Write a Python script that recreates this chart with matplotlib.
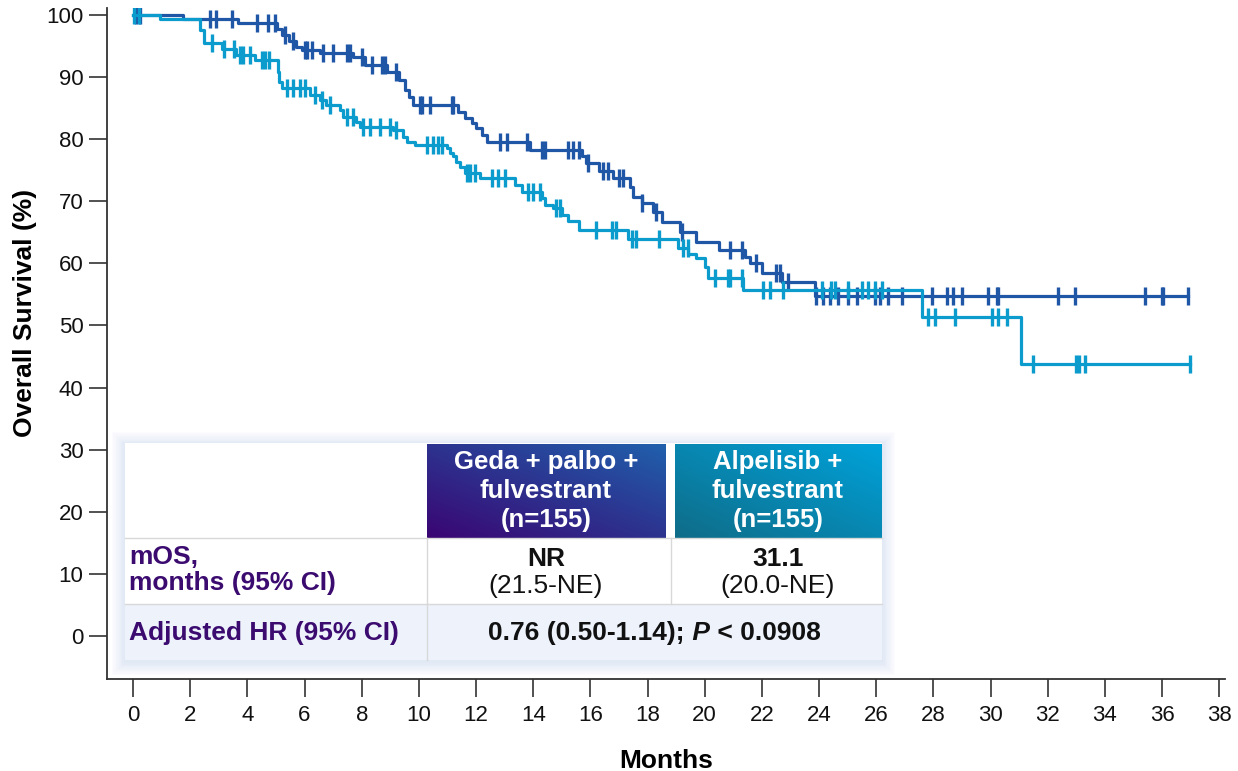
import numpy as np
import matplotlib
matplotlib.use('Agg')
import matplotlib.pyplot as plt
from matplotlib.patches import Rectangle
from matplotlib.colors import to_rgb

plt.rcParams['font.family'] = ['Liberation Sans', 'DejaVu Sans']

# Geda + palbo + fulvestrant: step times (months) and survival (%) after each step
geda_t = [0, 1.75, 3.67, 5.05, 5.2, 5.45, 5.7, 5.9, 6.55, 7.7, 8.1, 8.9, 9.3, 9.5,
          9.65, 9.8, 11.37, 11.6, 11.85, 12.0, 12.2, 12.38, 13.9, 15.7, 15.85, 16.3,
          16.8, 17.4, 17.5, 17.8, 18.2, 18.5, 19.15, 19.7, 20.5, 21.4, 21.6, 22.0,
          22.7, 23.86]
geda_s = [100, 99.4, 98.7, 97.8, 96.8, 95.8, 94.9, 94.4, 93.9, 93.2, 92.0, 90.8, 89.5,
          87.9, 86.8, 85.5, 84.4, 83.4, 82.6, 81.8, 80.7, 79.5, 78.3, 77.2, 76.1, 74.8,
          73.7, 72.3, 70.7, 69.7, 68.3, 66.7, 65.1, 63.4, 62.1, 61.0, 60.0, 58.4,
          57.0, 54.8]
geda_cens = [0.1, 0.25, 2.7, 2.9, 3.45, 4.33, 4.72, 4.97, 5.3, 5.6, 6.0, 6.1, 6.25,
             6.65, 7.0, 7.5, 7.6, 8.0, 8.35, 8.7, 8.8, 9.2, 10.05, 10.1, 10.4, 11.15,
             11.2, 12.84, 13.08, 13.78, 14.3, 14.4, 15.2, 15.4, 15.6, 15.9, 16.45,
             16.6, 17.0, 17.15, 17.8, 18.3, 19.2, 20.9, 21.3, 21.8, 22.5, 22.65, 22.9,
             23.9, 24.14, 24.39, 24.67, 25.02, 25.33, 25.96, 26.14, 26.42, 26.91,
             27.96, 28.48, 28.69, 29.0, 29.92, 30.23, 30.27, 32.37, 32.96, 35.41,
             36.0, 36.04, 36.91]

# Alpelisib + fulvestrant
alp_t = [0, 0.95, 2.35, 2.5, 3.1, 3.6, 4.25, 5.07, 5.12, 5.2, 6.2, 6.55, 6.75, 7.24,
         7.35, 7.8, 7.95, 9.1, 9.45, 9.6, 9.87, 11.0, 11.1, 11.2, 11.3, 11.45, 11.6,
         12.14, 13.37, 13.6, 14.3, 14.4, 14.7, 15.0, 15.2, 15.6, 17.3, 19.07, 19.43,
         19.7, 20.0, 20.1, 21.35, 27.6, 31.05]
alp_s = [100, 99.4, 97.6, 95.5, 94.5, 93.6, 92.8, 90.8, 89.2, 88.2, 87.1, 86.3, 85.5,
         84.7, 83.6, 82.8, 82.0, 81.5, 80.3, 79.5, 79.0, 78.5, 77.8, 77.2, 76.3, 75.5,
         74.5, 73.7, 72.6, 71.5, 70.5, 69.4, 68.9, 67.8, 66.8, 65.3, 63.9, 62.5, 61.5,
         60.9, 59.4, 57.6, 55.7, 51.4, 43.8]
alp_cens = [0.05, 0.2, 2.76, 3.2, 3.55, 3.75, 3.85, 4.1, 4.5, 4.6, 4.75, 5.38, 5.6,
            5.84, 6.02, 6.37, 6.6, 6.9, 7.5, 7.7, 8.05, 8.3, 8.64, 9.0, 9.2, 10.28,
            10.5, 10.67, 10.8, 11.7, 11.8, 11.97, 12.55, 12.77, 13.0, 13.8, 14.0,
            14.24, 14.8, 14.95, 16.2, 16.75, 16.9, 17.45, 17.6, 18.4, 19.25, 19.4,
            20.35, 20.8, 20.9, 21.3, 22.05, 22.3, 22.75, 24.1, 24.4, 24.55, 25.0,
            25.5, 25.7, 25.96, 26.2, 27.8, 28.05, 28.76, 30.05, 30.27, 30.58, 31.5,
            33.0, 33.1, 33.3, 36.98]

arm_labels = ['Geda + palbo +\nfulvestrant\n(n=155)', 'Alpelisib +\nfulvestrant\n(n=155)']
mos_values = ['NR', '31.1']
mos_ci = ['(21.5-NE)', '(20.0-NE)']
row_labels = ['mOS,\nmonths (95% CI)', 'Adjusted HR (95% CI)']
hr_text = ['0.76 (0.50-1.14);', ' P', ' < 0.0908']

c_geda = '#1f56a6'
c_alp = '#0b9bcc'
purple = '#3b0b70'

fig = plt.figure(figsize=(12.38, 7.71), dpi=100)
ax = fig.add_axes([107 / 1238, 92 / 771, 1118 / 1238, 671 / 771])


def km(ax, t, s, cens, color):
    t = np.asarray(t)
    s = np.asarray(s)
    cens = np.asarray(cens)
    tt = np.append(t, cens.max())
    ss = np.append(s, s[-1])
    ax.step(tt, ss, where='post', color=color, lw=2.3, zorder=3)
    idx = np.searchsorted(t, cens, side='right') - 1
    ax.plot(cens, s[idx], ls='none', marker='|', ms=13, mew=2.4, color=color, zorder=3)


km(ax, geda_t, geda_s, geda_cens, c_geda)
km(ax, alp_t, alp_s, alp_cens, c_alp)

ax.set_xlim(-0.91, 38.2)
ax.set_ylim(-6.9, 101.1)
ax.set_xticks(np.arange(0, 39, 2))
ax.set_yticks(np.arange(0, 101, 10))
for sp in ['top', 'right']:
    ax.spines[sp].set_visible(False)
for sp in ['left', 'bottom']:
    ax.spines[sp].set_color('#333333')
    ax.spines[sp].set_linewidth(1.3)
ax.tick_params(axis='both', direction='out', length=13, width=1.2, color='#333333',
               labelsize=16, labelcolor='#111111')
ax.tick_params(axis='x', pad=6)
ax.tick_params(axis='y', pad=4)
ax.set_xlabel('Months', fontsize=19, fontweight='bold', labelpad=16)
ax.set_ylabel('Overall Survival (%)', fontsize=19, fontweight='bold')
ax.yaxis.set_label_coords(-0.063, 0.545)

# table drawn in pixel coordinates on an overlay axes
ov = fig.add_axes([0, 0, 1, 1], zorder=5)
ov.set_xlim(0, 1238)
ov.set_ylim(771, 0)
ov.axis('off')

x0, x1 = 125, 882
cx = [125, 427, 671, 882]
ry = [443, 538, 604, 660]

# soft glow behind the table
for k in range(1, 11):
    ov.add_patch(Rectangle((x0 - k * 1.3, ry[0] - k * 1.3 + 2), (x1 - x0) + 2.6 * k,
                           (ry[3] - ry[0]) + 2.6 * k, fc='#7b95cc', alpha=0.018, lw=0, zorder=1))
ov.add_patch(Rectangle((x0, ry[0]), x1 - x0, ry[2] - ry[0], fc='white', lw=0, zorder=2))
ov.add_patch(Rectangle((x0, ry[2]), x1 - x0, ry[3] - ry[2], fc='#edf2fb', lw=0, zorder=2))


def grad_cell(xa, ya, xb, yb, c_bl, c_tr):
    n = 80
    u = np.linspace(0, 1, n)[None, :]
    v = np.linspace(0, 1, n)[:, None]
    g = ((u + (1 - v)) / 2)[..., None]
    img = np.array(to_rgb(c_bl)) * (1 - g) + np.array(to_rgb(c_tr)) * g
    ov.imshow(img, extent=(xa, xb, yb, ya), aspect='auto', interpolation='bilinear', zorder=3)


grad_cell(427, 444, 666, 538, '#3a0572', '#2060ac')
grad_cell(675, 444, 882, 538, '#0f6c88', '#00a2da')
ov.set_xlim(0, 1238)
ov.set_ylim(771, 0)

lc = '#d8d8d8'
ov.plot([x0, x1], [ry[1], ry[1]], color=lc, lw=1, zorder=4)
ov.plot([x0, x1], [ry[2], ry[2]], color=lc, lw=1, zorder=4)
ov.plot([cx[1], cx[1]], [ry[1], ry[3]], color=lc, lw=1, zorder=4)
ov.plot([cx[2], cx[2]], [ry[1], ry[2]], color=lc, lw=1, zorder=4)

centers = [546, 778]
for i in range(2):
    ov.text(centers[i], 491, arm_labels[i], color='white', fontsize=18.5, fontweight='bold',
            ha='center', va='center', linespacing=1.25, zorder=6)
    ov.text(centers[i], 559, mos_values[i], color='#111111', fontsize=19, fontweight='bold',
            ha='center', va='center', zorder=6)
    ov.text(centers[i], 586, mos_ci[i], color='#111111', fontsize=19,
            ha='center', va='center', zorder=6)

ov.text(129, 570, row_labels[0], color=purple, fontsize=19, fontweight='bold',
        ha='left', va='center', linespacing=1.1, zorder=6)
ov.text(129, 633, row_labels[1], color=purple, fontsize=19, fontweight='bold',
        ha='left', va='center', zorder=6)

# HR line with italic P, centred over the two arm columns
parts = []
styles = ['normal', 'italic', 'normal']
for txt, st in zip(hr_text, styles):
    parts.append(ov.text(0, 633, txt, color='#111111', fontsize=19, fontweight='bold',
                         fontstyle=st, ha='left', va='center', zorder=6))
r = fig.canvas.get_renderer()
inv = ov.transData.inverted()
widths = []
for p in parts:
    bb = p.get_window_extent(renderer=r)
    a = inv.transform((bb.x0, 0))[0]
    b = inv.transform((bb.x1, 0))[0]
    widths.append(b - a)
xpos = (cx[1] + x1) / 2 - sum(widths) / 2
for p, w in zip(parts, widths):
    p.set_x(xpos)
    xpos += w

fig.savefig('out.png', dpi=100)
